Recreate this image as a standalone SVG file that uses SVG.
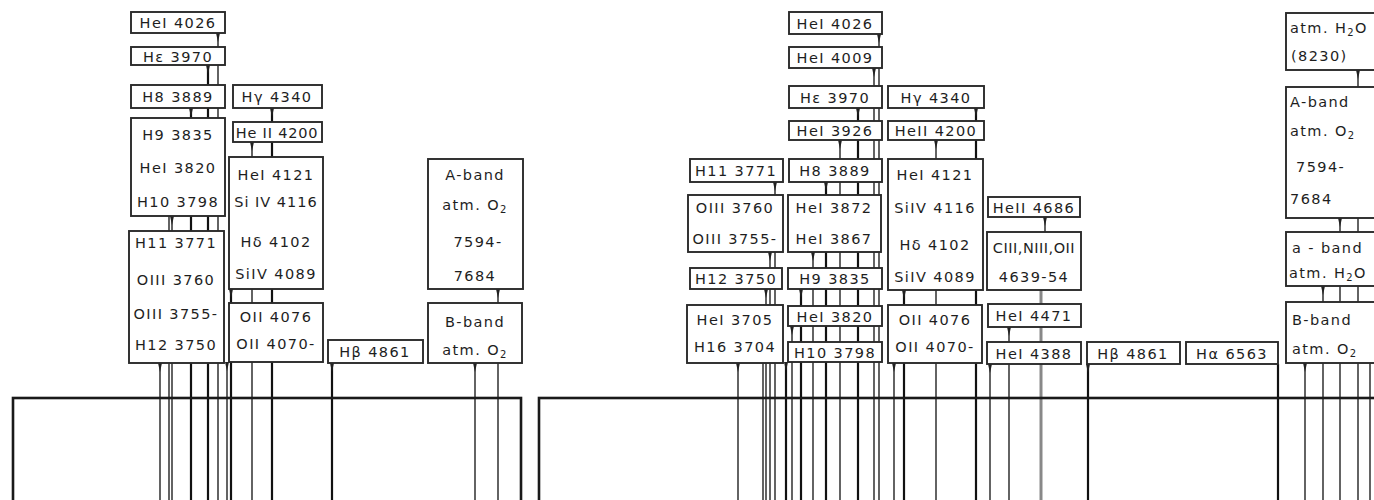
<svg xmlns="http://www.w3.org/2000/svg" width="1374" height="500" viewBox="0 0 1374 500">
<style>
.box{fill:#fff;stroke:#2a2a2a;stroke-width:1.9}
.t{font-family:"DejaVu Sans",sans-serif;font-size:14.5px;fill:#1e1e1e;letter-spacing:1.4px;text-anchor:middle}
.s{text-anchor:start}
.c{stroke:#222;stroke-width:1.4}
.k{stroke:#111;stroke-width:2.2}
.g{stroke:#888;stroke-width:3}
.a{marker-start:url(#ar)}
.spec{fill:none;stroke:#1a1a1a;stroke-width:2.6}
</style>
<defs>
<marker id="ar" markerUnits="userSpaceOnUse" markerWidth="10" markerHeight="6" viewBox="0 -3 10 6" refX="0" refY="0" orient="auto"><path d="M0,-2 L9,0 L0,2z" fill="#222"/></marker>
</defs>
<rect width="1374" height="500" fill="#fff"/>
<g id="connectors">
<line class="c a" x1="218" y1="33" x2="218" y2="505"/>
<line class="k a" x1="208" y1="65" x2="208" y2="505"/>
<line class="k a" x1="191" y1="108" x2="191" y2="505"/>
<line class="c" x1="169" y1="216" x2="169" y2="505"/>
<line class="c a" x1="172" y1="216" x2="172" y2="505"/>
<line class="c a" x1="160" y1="363" x2="160" y2="505"/>
<line class="k a" x1="272" y1="108" x2="272" y2="505"/>
<line class="c a" x1="252" y1="142" x2="252" y2="505"/>
<line class="k a" x1="231" y1="289" x2="231" y2="505"/>
<line class="c a" x1="227" y1="362" x2="227" y2="505"/>
<line class="k a" x1="332" y1="363" x2="332" y2="505"/>
<line class="c a" x1="498" y1="289" x2="498" y2="505"/>
<line class="c a" x1="475" y1="363" x2="475" y2="505"/>
<line class="c a" x1="775" y1="182" x2="775" y2="505"/>
<line class="c a" x1="770" y1="252" x2="770" y2="505"/>
<line class="c a" x1="766" y1="289" x2="766" y2="505"/>
<line class="c" x1="763" y1="363" x2="763" y2="505"/>
<line class="c a" x1="738" y1="363" x2="738" y2="505"/>
<line class="c a" x1="879" y1="34" x2="879" y2="505"/>
<line class="c a" x1="874" y1="68" x2="874" y2="505"/>
<line class="k a" x1="858" y1="108" x2="858" y2="505"/>
<line class="c a" x1="840" y1="140" x2="840" y2="505"/>
<line class="k a" x1="826" y1="182" x2="826" y2="505"/>
<line class="c a" x1="813" y1="252" x2="813" y2="505"/>
<line class="k a" x1="801" y1="289" x2="801" y2="505"/>
<line class="c a" x1="792" y1="326" x2="792" y2="505"/>
<line class="k a" x1="786" y1="362" x2="786" y2="505"/>
<line class="k a" x1="976" y1="108" x2="976" y2="505"/>
<line class="c a" x1="936" y1="140" x2="936" y2="505"/>
<line class="k a" x1="904" y1="290" x2="904" y2="505"/>
<line class="c a" x1="894" y1="363" x2="894" y2="505"/>
<line class="c a" x1="1045" y1="217" x2="1045" y2="232"/>
<line class="g" x1="1041" y1="290" x2="1041" y2="505"/>
<line class="c a" x1="1009" y1="327" x2="1009" y2="505"/>
<line class="c a" x1="990" y1="364" x2="990" y2="505"/>
<line class="k a" x1="1088" y1="364" x2="1088" y2="505"/>
<line class="k" x1="1278" y1="364" x2="1278" y2="505"/>
<line class="c a" x1="1358" y1="70" x2="1358" y2="505"/>
<line class="c a" x1="1340" y1="218" x2="1340" y2="505"/>
<line class="c a" x1="1323" y1="286" x2="1323" y2="505"/>
<line class="c a" x1="1305" y1="363" x2="1305" y2="505"/>
<line class="c" x1="1370" y1="363" x2="1370" y2="505"/>
</g>
<g id="spectra">
<rect class="spec" x="13" y="398" width="508" height="120"/>
<rect class="spec" x="539" y="398" width="860" height="120"/>
</g>
<g id="L-HeI4026"><rect class="box" x="131" y="12" width="94" height="21"/><text class="t" x="178" y="28">HeI 4026</text></g>
<g id="L-He3970"><rect class="box" x="131" y="47" width="94" height="18"/><text class="t" x="178" y="61.5">Hε 3970</text></g>
<g id="L-H8"><rect class="box" x="131" y="85" width="94" height="23"/><text class="t" x="178" y="102">H8  3889</text></g>
<g id="L-Hg"><rect class="box" x="233" y="85" width="89" height="23"/><text class="t" x="277" y="102">Hγ 4340</text></g>
<g id="L-H9"><rect class="box" x="131" y="118" width="94" height="98"/><text class="t" x="178" y="140">H9  3835</text><text class="t" x="178" y="173">HeI 3820</text><text class="t" x="178" y="207">H10 3798</text></g>
<g id="L-HeII4200"><rect class="box" x="233" y="122" width="89" height="20"/><text class="t" x="277" y="137.5" style="letter-spacing:0.8px">He II 4200</text></g>
<g id="L-HeI4121"><rect class="box" x="229" y="157" width="94" height="132"/><text class="t" x="276" y="180">HeI 4121</text><text class="t" x="276" y="207" style="letter-spacing:1px">Si IV 4116</text><text class="t" x="276" y="247">Hδ 4102</text><text class="t" x="276" y="279">SiIV 4089</text></g>
<g id="L-H11"><rect class="box" x="129" y="231" width="95" height="132"/><text class="t" x="176" y="248">H11 3771</text><text class="t" x="176" y="285">OIII 3760</text><text class="t" x="176" y="319">OIII 3755-</text><text class="t" x="176" y="350">H12 3750</text></g>
<g id="L-OII"><rect class="box" x="229" y="303" width="94" height="59"/><text class="t" x="276" y="322">OII 4076</text><text class="t" x="276" y="349">OII 4070-</text></g>
<g id="L-Hb"><rect class="box" x="328" y="340" width="95" height="23"/><text class="t" x="375" y="356.5">Hβ 4861</text></g>
<g id="L-Aband"><rect class="box" x="428" y="159" width="95" height="130"/><text class="t" x="475" y="180">A-band</text><text class="t" x="475" y="210">atm. O<tspan font-size="10" dy="3">2</tspan></text><text class="t" x="478" y="247">7594-</text><text class="t" x="475" y="281">7684</text></g>
<g id="L-Bband"><rect class="box" x="428" y="303" width="94" height="60"/><text class="t" x="475" y="327">B-band</text><text class="t" x="475" y="355">atm. O<tspan font-size="10" dy="3">2</tspan></text></g>
<g id="M-HeI4026"><rect class="box" x="789" y="12" width="93" height="22"/><text class="t" x="835" y="28.5">HeI 4026</text></g>
<g id="M-HeI4009"><rect class="box" x="789" y="47" width="93" height="21"/><text class="t" x="835" y="63">HeI 4009</text></g>
<g id="M-He3970"><rect class="box" x="789" y="86" width="93" height="22"/><text class="t" x="835" y="102.5">Hε 3970</text></g>
<g id="M-Hg"><rect class="box" x="888" y="86" width="96" height="22"/><text class="t" x="936" y="102.5">Hγ 4340</text></g>
<g id="M-HeI3926"><rect class="box" x="789" y="121" width="93" height="19"/><text class="t" x="835" y="136">HeI 3926</text></g>
<g id="M-HeII4200"><rect class="box" x="888" y="121" width="96" height="19"/><text class="t" x="936" y="136">HeII 4200</text></g>
<g id="M-H11"><rect class="box" x="690" y="159" width="93" height="23"/><text class="t" x="736" y="176">H11 3771</text></g>
<g id="M-H8"><rect class="box" x="789" y="159" width="93" height="23"/><text class="t" x="835" y="176">H8 3889</text></g>
<g id="M-HeI4121"><rect class="box" x="888" y="159" width="95" height="131"/><text class="t" x="935" y="180">HeI 4121</text><text class="t" x="935" y="213">SiIV 4116</text><text class="t" x="935" y="250">Hδ 4102</text><text class="t" x="935" y="282">SiIV 4089</text></g>
<g id="M-OIII"><rect class="box" x="688" y="195" width="95" height="57"/><text class="t" x="735" y="213">OIII 3760</text><text class="t" x="735" y="244">OIII 3755-</text></g>
<g id="M-HeI3872"><rect class="box" x="788" y="195" width="93" height="57"/><text class="t" x="834" y="213">HeI 3872</text><text class="t" x="834" y="244">HeI 3867</text></g>
<g id="M-HeII4686"><rect class="box" x="988" y="197" width="92" height="20"/><text class="t" x="1034" y="212.5">HeII 4686</text></g>
<g id="M-CIII"><rect class="box" x="987" y="232" width="94" height="58"/><text class="t" x="1034" y="253" style="letter-spacing:0.5px">CIII,NIII,OII</text><text class="t" x="1034" y="282">4639-54</text></g>
<g id="M-H12"><rect class="box" x="690" y="268" width="92" height="21"/><text class="t" x="736" y="284">H12 3750</text></g>
<g id="M-H9"><rect class="box" x="788" y="268" width="94" height="21"/><text class="t" x="835" y="284">H9  3835</text></g>
<g id="M-HeI3705"><rect class="box" x="687" y="305" width="96" height="58"/><text class="t" x="735" y="325">HeI 3705</text><text class="t" x="735" y="352">H16 3704</text></g>
<g id="M-HeI3820"><rect class="box" x="788" y="306" width="94" height="20"/><text class="t" x="835" y="321.5">HeI 3820</text></g>
<g id="M-H10"><rect class="box" x="788" y="342" width="94" height="20"/><text class="t" x="835" y="357.5">H10 3798</text></g>
<g id="M-OII"><rect class="box" x="888" y="305" width="94" height="58"/><text class="t" x="935" y="325">OII 4076</text><text class="t" x="935" y="352">OII 4070-</text></g>
<g id="M-HeI4471"><rect class="box" x="988" y="304" width="93" height="23"/><text class="t" x="1034" y="321">HeI 4471</text></g>
<g id="M-HeI4388"><rect class="box" x="987" y="342" width="94" height="22"/><text class="t" x="1034" y="358.5">HeI 4388</text></g>
<g id="M-Hb"><rect class="box" x="1087" y="342" width="93" height="22"/><text class="t" x="1133" y="358.5">Hβ 4861</text></g>
<g id="M-Ha"><rect class="box" x="1186" y="342" width="92" height="22"/><text class="t" x="1232" y="358.5">Hα 6563</text></g>
<g id="R-H2O"><rect class="box" x="1286" y="13" width="104" height="57"/><text class="t s" x="1290" y="33">atm. H<tspan font-size="10" dy="3">2</tspan><tspan dy="-3">O</tspan></text><text class="t s" x="1291" y="61">(8230)</text></g>
<g id="R-Aband"><rect class="box" x="1286" y="87" width="104" height="131"/><text class="t s" x="1290" y="107">A-band</text><text class="t s" x="1290" y="136">atm. O<tspan font-size="10" dy="3">2</tspan></text><text class="t s" x="1296" y="172">7594-</text><text class="t s" x="1290" y="204">7684</text></g>
<g id="R-aband"><rect class="box" x="1286" y="232" width="104" height="54"/><text class="t s" x="1292" y="253">a - band</text><text class="t s" x="1289" y="278">atm. H<tspan font-size="10" dy="3">2</tspan><tspan dy="-3">O</tspan></text></g>
<g id="R-Bband"><rect class="box" x="1286" y="302" width="104" height="61"/><text class="t s" x="1292" y="325">B-band</text><text class="t s" x="1292" y="354">atm. O<tspan font-size="10" dy="3">2</tspan></text></g>
</svg>
